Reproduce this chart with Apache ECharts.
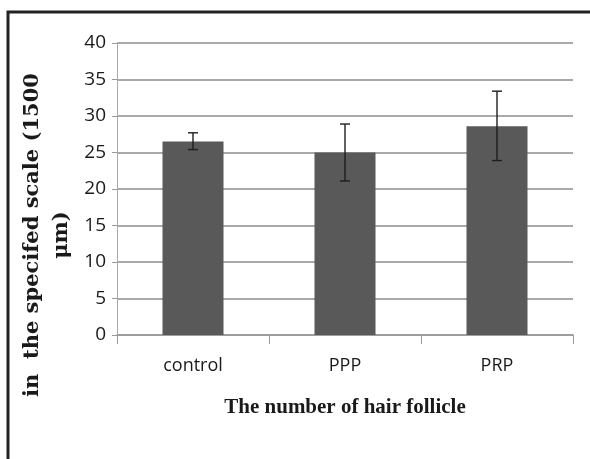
<!DOCTYPE html>
<html>
<head>
<meta charset="utf-8">
<script src="https://cdn.jsdelivr.net/npm/echarts@6/dist/echarts.min.js"></script>
<style>
html,body{margin:0;padding:0;background:#fff;}
#chart{width:590px;height:459px;}
</style>
</head>
<body>
<div id="chart"></div>
<script>
// groups on the x axis
var categories = ['control', 'PPP', 'PRP'];
// bar heights
var meanValues = [26.5, 25.0, 28.6];
// error bar ends
var errLow = [25.4, 21.1, 23.9];
var errHigh = [27.7, 28.9, 33.4];

var chart = echarts.init(document.getElementById('chart'));

var errData = [];
for (var i = 0; i < categories.length; i++) {
	errData.push([i, errLow[i], errHigh[i]]);
}

var option = {
	animation: false,
	backgroundColor: '#fff',
	grid: { left: 117, right: 17, top: 43, bottom: 124 },
	xAxis: {
		type: 'category',
		data: categories,
		boundaryGap: true,
		axisLine: { lineStyle: { color: '#999', width: 1.5 } },
		axisTick: { show: true, length: 9, lineStyle: { color: '#999' } },
		axisLabel: { margin: 22, color: '#1a1a1a', fontSize: 18, fontFamily: 'Open Sans' },
		name: 'The number of hair follicle',
		nameLocation: 'middle',
		nameGap: 62,
		nameTextStyle: { fontFamily: 'Liberation Serif', fontWeight: 'bold', fontSize: 21, color: '#1a1a1a' }
	},
	yAxis: {
		type: 'value',
		min: 0,
		max: 40,
		interval: 5,
		axisLine: { show: true, lineStyle: { color: '#aaa', width: 1 } },
		axisTick: { show: true, length: 5, lineStyle: { color: '#999' } },
		axisLabel: { margin: 11, color: '#1a1a1a', fontSize: 19, fontFamily: 'Open Sans' },
		splitLine: { lineStyle: { color: '#8c8c8c', width: 1.5 } }
	},
	series: [
		{
			type: 'bar',
			data: meanValues,
			barWidth: 61,
			itemStyle: { color: '#595959' }
		},
		{
			type: 'custom',
			data: errData,
			z: 10,
			renderItem: function (params, api) {
				var x = api.value(0);
				var lo = api.coord([x, api.value(1)]);
				var hi = api.coord([x, api.value(2)]);
				var w = 5;
				var st = { stroke: '#1e1e1e', lineWidth: 1.4 };
				return {
					type: 'group',
					children: [
						{ type: 'line', shape: { x1: hi[0], y1: hi[1], x2: lo[0], y2: lo[1] }, style: st },
						{ type: 'line', shape: { x1: hi[0] - w, y1: hi[1], x2: hi[0] + w, y2: hi[1] }, style: st },
						{ type: 'line', shape: { x1: lo[0] - w, y1: lo[1], x2: lo[0] + w, y2: lo[1] }, style: st }
					]
				};
			}
		}
	],
	graphic: [
		{
			type: 'rect',
			shape: { x: 8, y: 12, width: 600, height: 480 },
			style: { fill: null, stroke: '#222', lineWidth: 3 },
			silent: true
		},
		{
			type: 'text',
			x: 47,
			y: 235,
			rotation: Math.PI / 2,
			style: {
				text: 'in  the specifed scale (1500\nμm)',
				align: 'center',
				verticalAlign: 'middle',
				font: 'bold 21px "DejaVu Serif"',
				lineHeight: 29,
				fill: '#1a1a1a'
			}
		}
	]
};
chart.setOption(option);
</script>
</body>
</html>
